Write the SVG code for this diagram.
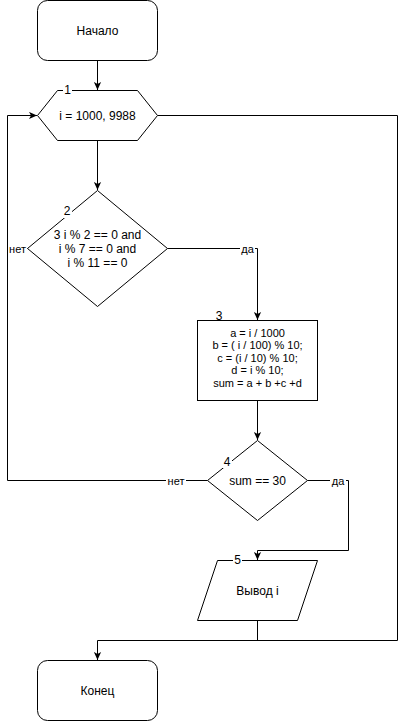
<svg xmlns="http://www.w3.org/2000/svg" width="406" height="721" viewBox="0 0 406 721">
<style>
.shape{fill:#fff;stroke:#000;stroke-width:1}
.t{font-family:"Liberation Sans",Arial,sans-serif;font-size:12px;fill:#000;text-anchor:middle;dominant-baseline:central}
.ts{font-family:"Liberation Sans",Arial,sans-serif;font-size:11px;fill:#000;text-anchor:middle;dominant-baseline:central}
.lbl{font-family:"Liberation Sans",Arial,sans-serif;font-size:11px;fill:#000;text-anchor:middle;dominant-baseline:central}
.conn{fill:none;stroke:#000;stroke-width:1}
.bg{fill:#fff}
</style>
<defs>
<marker id="arr" viewBox="0 0 10 10" refX="10" refY="5" markerWidth="8" markerHeight="8" markerUnits="userSpaceOnUse" orient="auto">
<path d="M0,0.5 L10,5 L0,9.5 L2.5,5 z" fill="#000"/>
</marker>
</defs>
<g id="connectors">
<path class="conn" d="M97.5,60.5 V90" marker-end="url(#arr)"/>
<path class="conn" d="M97.5,140.5 V190" marker-end="url(#arr)"/>
<path class="conn" d="M157.5,115.5 H397.5 V640.5 H97.5 V660" marker-end="url(#arr)"/>
<path class="conn" d="M167.5,248.5 H257.5 V320" marker-end="url(#arr)"/>
<path class="conn" d="M27.5,248.5 H7.5"/>
<path class="conn" d="M257.5,400.5 V440" marker-end="url(#arr)"/>
<path class="conn" d="M207.5,480.5 H7.5 V115.5 H37" marker-end="url(#arr)"/>
<path class="conn" d="M307.5,480.5 H348.5 V550.5 H257.5 V560" marker-end="url(#arr)"/>
<path class="conn" d="M257.5,620.5 V640.5"/>
<rect class="bg" x="8" y="241" width="19" height="14"/>
<text class="lbl" x="17.5" y="248.5">нет</text>
<rect class="bg" x="240" y="241" width="15" height="14"/>
<text class="lbl" x="247.5" y="248.5">да</text>
<rect class="bg" x="166" y="473" width="20" height="14"/>
<text class="lbl" x="176" y="480.5">нет</text>
<rect class="bg" x="330" y="473" width="16" height="14"/>
<text class="lbl" x="338" y="480.5">да</text>
</g>
<g id="start">
<rect class="shape" x="37.5" y="0.5" width="120" height="60" rx="10" ry="10"/>
<text class="t" x="97.5" y="30.5">Начало</text>
</g>
<g id="loop">
<polygon class="shape" points="37.5,115.5 57.5,90.5 137.5,90.5 157.5,115.5 137.5,140.5 57.5,140.5"/>
<text class="t" x="97.5" y="115.5">i = 1000, 9988</text>
<rect class="bg" x="63" y="84" width="9" height="12"/>
<text class="t" x="67.5" y="90">1</text>
</g>
<g id="cond1">
<polygon class="shape" points="97.5,190.5 167.5,248.5 97.5,306.5 27.5,248.5"/>
<rect class="bg" x="62" y="205" width="10" height="13"/>
<text class="t" x="67" y="211">2</text>
<text class="t" x="97.5" y="235">3 i % 2 == 0 and</text>
<text class="t" x="97.5" y="249">i % 7 == 0 and</text>
<text class="t" x="97.5" y="263">i % 11 == 0</text>
</g>
<g id="calc">
<rect class="shape" x="197.5" y="320.5" width="120" height="80"/>
<rect class="bg" x="214" y="311" width="10" height="9"/>
<text class="t" x="219" y="316">3</text>
<text class="ts" x="257.5" y="332.5">a = i / 1000</text>
<text class="ts" x="257.5" y="345">b = ( i / 100) % 10;</text>
<text class="ts" x="257.5" y="357.5">c = (i / 10) % 10;</text>
<text class="ts" x="257.5" y="370">d = i % 10;</text>
<text class="ts" x="257.5" y="382.5">sum = a + b +c +d</text>
</g>
<g id="cond2">
<polygon class="shape" points="257.5,440.5 307.5,480.5 257.5,520.5 207.5,480.5"/>
<rect class="bg" x="222" y="455" width="10" height="13"/>
<text class="t" x="227" y="461.5">4</text>
<text class="t" x="257.5" y="480.5">sum == 30</text>
</g>
<g id="output">
<polygon class="shape" points="217.5,560.5 317.5,560.5 297.5,620.5 197.5,620.5"/>
<rect class="bg" x="233" y="554" width="9" height="12"/>
<text class="t" x="237.5" y="560">5</text>
<text class="t" x="257.5" y="591">Вывод i</text>
</g>
<g id="end">
<rect class="shape" x="37.5" y="660.5" width="120" height="60" rx="10" ry="10"/>
<text class="t" x="97.5" y="690.5">Конец</text>
</g>
</svg>
